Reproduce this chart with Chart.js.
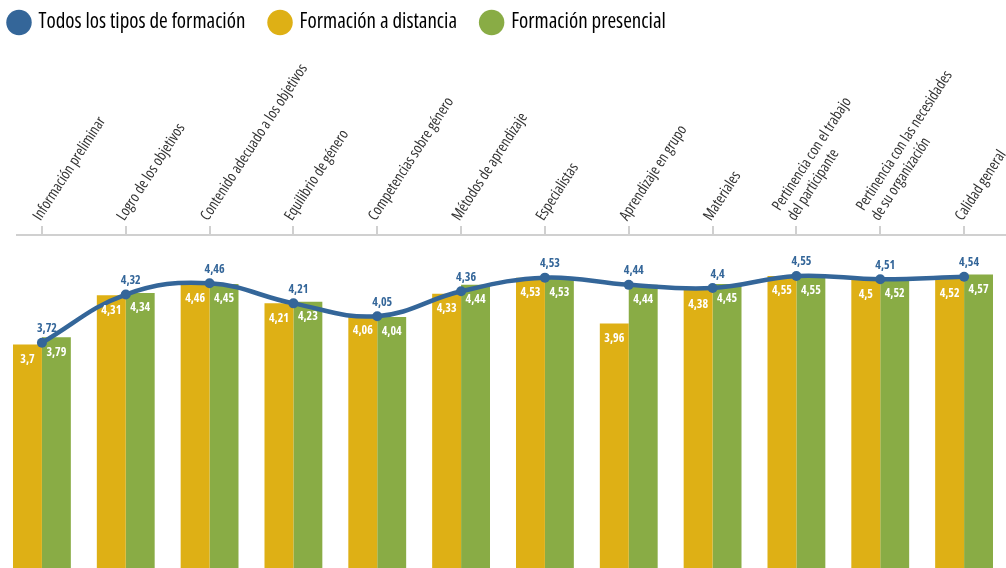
<!DOCTYPE html>
<html><head><meta charset="utf-8">
<script src="https://cdn.jsdelivr.net/npm/chart.js@4.4.1/dist/chart.umd.min.js"></script>
<style>html,body{margin:0;padding:0;background:#fff;overflow:hidden}#wrap{width:1006px;height:568px}</style>
</head><body><div id="wrap"><canvas id="c" width="1006" height="568"></canvas></div>
<script>
const categories = [
  "Información preliminar",
  "Logro de los objetivos",
  "Contenido adecuado a los objetivos",
  "Equilibrio de género",
  "Competencias sobre género",
  "Métodos de aprendizaje",
  "Especialistas",
  "Aprendizaje en grupo",
  "Materiales",
  ["Pertinencia con el trabajo", "del participante"],
  ["Pertinencia con las necesidades", "de su organización"],
  "Calidad general"
];
const todos = [3.72, 4.32, 4.46, 4.21, 4.05, 4.36, 4.53, 4.44, 4.4, 4.55, 4.51, 4.54];
const distancia = [3.7, 4.31, 4.46, 4.21, 4.06, 4.33, 4.53, 3.96, 4.38, 4.55, 4.5, 4.52];
const presencial = [3.79, 4.34, 4.45, 4.23, 4.04, 4.44, 4.53, 4.44, 4.45, 4.55, 4.52, 4.57];

const BLUE = '#346699', YELLOW = '#DEB015', GREEN = '#89AC45';
const FAM = "'Open Sans', 'Roboto Condensed', sans-serif";
const fmt = v => String(v).replace('.', ',');

const labelPlugin = {
  id: 'valueLabels',
  afterDatasetsDraw(chart) {
    const ctx = chart.ctx;
    ctx.save();
    ctx.textAlign = 'center';
    ctx.textBaseline = 'middle';
    chart.data.datasets.forEach((ds, di) => {
      const meta = chart.getDatasetMeta(di);
      meta.data.forEach((el, i) => {
        const v = ds.data[i];
        ctx.font = "bold condensed 12px " + FAM;
        if (ds.type === 'line') {
          ctx.fillStyle = BLUE;
          ctx.fillText(fmt(v), el.x + 5, el.y - 14);
        } else {
          ctx.fillStyle = '#ffffff';
          ctx.fillText(fmt(v), el.x, el.y + 15);
        }
      });
    });
    ctx.restore();
  }
};

const axisLinePlugin = {
  id: 'axisLine',
  afterDraw(chart) {
    const ctx = chart.ctx, top = chart.chartArea.top;
    ctx.save();
    ctx.strokeStyle = '#d0d0d0';
    ctx.lineWidth = 2;
    ctx.beginPath();
    ctx.moveTo(16, top); ctx.lineTo(chart.width, top);
    ctx.stroke();
    ctx.restore();
  }
};

new Chart(document.getElementById('c'), {
  data: {
    labels: categories,
    datasets: [
      { type: 'line', label: 'Todos los tipos de formación', data: todos,
        borderColor: BLUE, backgroundColor: BLUE, borderWidth: 4.5, tension: 0.4,
        pointRadius: 5, pointBackgroundColor: BLUE, pointBorderWidth: 0, order: 0 },
      { type: 'bar', label: 'Formación a distancia', data: distancia,
        backgroundColor: YELLOW, barPercentage: 1, categoryPercentage: 0.69, order: 1 },
      { type: 'bar', label: 'Formación presencial', data: presencial,
        backgroundColor: GREEN, barPercentage: 1, categoryPercentage: 0.69, order: 1 }
    ]
  },
  options: {
    responsive: false,
    animation: false,
    layout: { padding: { top: 2, left: 0, right: 0, bottom: 0 }, autoPadding: false },
    plugins: {
      legend: {
        position: 'top', align: 'start',
        labels: {
          usePointStyle: true, pointStyle: 'circle', boxWidth: 18, boxHeight: 18,
          color: '#1a1a1a', font: { family: FAM, size: 21, weight: 'condensed' }, padding: 10,
          generateLabels(chart) {
            return chart.data.datasets.map((d, i) => ({
              text: d.label + '    ', fillStyle: d.backgroundColor, strokeStyle: d.backgroundColor,
              lineWidth: 0, pointStyle: 'circle', datasetIndex: i, hidden: false
            }));
          }
        }
      },
      tooltip: { enabled: false }
    },
    scales: {
      x: {
        position: 'top',
        offset: true,
        grid: { display: true, drawOnChartArea: false, drawTicks: true, tickLength: 9, color: '#d0d0d0', lineWidth: 2, offset: false },
        border: { display: false },
        ticks: { color: '#333', font: { family: FAM, size: 15, weight: 'condensed' }, minRotation: 57, maxRotation: 57, padding: 2, labelOffset: 10, autoSkip: false },
        afterFit(scale) { scale.height = 192; scale.paddingLeft = 0; scale.paddingRight = 0; }
      },
      y: { display: false, min: 0.92, max: 5.06 }
    }
  },
  plugins: [labelPlugin, axisLinePlugin]
});
</script></body></html>
